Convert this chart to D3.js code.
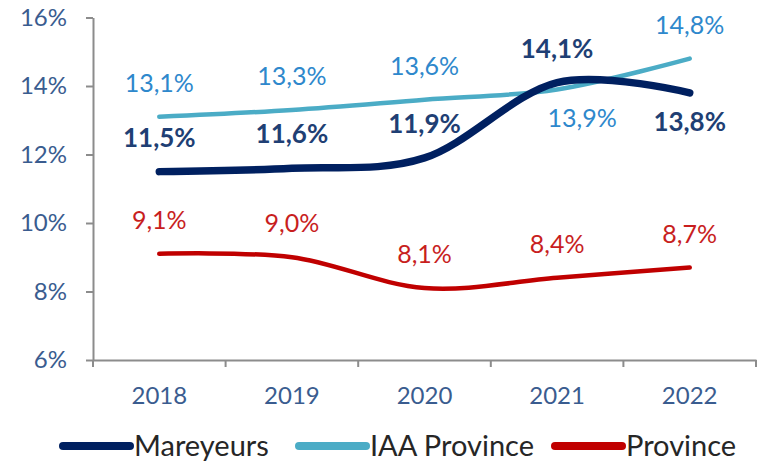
<!DOCTYPE html>
<html>
<head>
<meta charset="utf-8">
<title>Mareyeurs</title>
<script src="https://cdnjs.cloudflare.com/ajax/libs/d3/7.8.5/d3.min.js"></script>
<style>
body{
margin:0;
background:#fff
}
svg{
display:block
}
text{
font-family:Lato, "Open Sans", sans-serif
}
</style>
</head>
<body>
<svg width="765" height="465"></svg>

<script>

// data
var years = ["2018", "2019", "2020", "2021", "2022"]
var mareyeurs = [11.5, 11.6, 11.9, 14.1, 13.8]
var iaaProvince = [13.1, 13.3, 13.6, 13.9, 14.8]
var province = [9.1, 9.0, 8.1, 8.4, 8.7]
var yTicks = [6, 8, 10, 12, 14, 16]
var seriesNames = ["Mareyeurs", "IAA Province", "Province"]
// where each value label sits: t = above, b = below, br = below right
var mareyeursPlace = ["t", "t", "t", "t", "b"]
var iaaPlace = ["t", "t", "t", "br", "t"]
var provincePlace = ["t", "t", "t", "t", "t"]

var series = [
	{name: seriesNames[0], values: mareyeurs, place: mareyeursPlace, color: "#002060", labelColor: "#1F3F74", width: 7.5, bold: true},
	{name: seriesNames[1], values: iaaProvince, place: iaaPlace, color: "#4BACC6", labelColor: "#2E88CC", width: 4.5, bold: false},
	{name: seriesNames[2], values: province, place: provincePlace, color: "#C00000", labelColor: "#C81E1E", width: 4.5, bold: false}
]

const svg = d3.select("svg")

const x = d3.scaleBand().domain(years).range([93, 756])
const y = d3.scaleLinear().domain([6, 16]).range([360, 17.5])
const fmt = v => d3.format(".1f")(v).replace(".", ",") + "%"

// y axis
const yAxis = svg.append("g")
	.attr("transform", "translate(93,0)")
	.call(d3.axisLeft(y).tickValues(yTicks).tickSize(7).tickSizeOuter(0).tickPadding(19).tickFormat(d => d + "%"))
yAxis.selectAll("line").attr("stroke", "#8C8C8C").attr("stroke-width", 2)
yAxis.select(".domain").attr("stroke", "#8C8C8C").attr("stroke-width", 2)
yAxis.selectAll("text")
	.attr("fill", "#3A5C8F")
	.style("font-size", "24px")
	.style("font-family", "Lato")

// x axis
const xAxis = svg.append("g")
	.attr("transform", "translate(0,360)")
	.call(d3.axisBottom(x).tickSize(0).tickSizeOuter(0).tickPadding(27))
xAxis.select(".domain").attr("stroke", "#8C8C8C").attr("stroke-width", 2)
xAxis.selectAll("text")
	.attr("fill", "#3A5C8F")
	.style("font-size", "24px")
	.style("font-family", "Lato")

// tick marks between the categories
var bounds = years.map(d => x(d)).concat([x.range()[1]])
xAxis.selectAll(".bound")
	.data(bounds)
	.join("line")
	.attr("class", "bound")
	.attr("x1", d => d)
	.attr("x2", d => d)
	.attr("y1", 0)
	.attr("y2", 7)
	.attr("stroke", "#8C8C8C")
	.attr("stroke-width", 2)

const line = d3.line()
	.x((d, i) => x(years[i]) + x.bandwidth() / 2)
	.y(d => y(d))
	.curve(d3.curveCardinal.tension(0))

// lines, drawn province first so mareyeurs is on top
svg.append("g")
	.selectAll("path")
	.data(series.slice().reverse())
	.join("path")
	.attr("d", d => line(d.values))
	.attr("fill", "none")
	.attr("stroke", d => d.color)
	.attr("stroke-width", d => d.width)
	.attr("stroke-linecap", "round")

// value labels
series.forEach(s => {
	svg.append("g")
		.selectAll("text")
		.data(s.values)
		.join("text")
		.attr("x", (d, i) => x(years[i]) + x.bandwidth() / 2 + (s.place[i] == "br" ? 25 : 0))
		.attr("y", (d, i) => s.place[i] == "t" ? y(d) - 25 : y(d) + 38)
		.attr("text-anchor", "middle")
		.attr("fill", s.labelColor)
		.style("font-size", s.bold ? "26px" : "25px")
		.style("font-weight", s.bold ? "bold" : "normal")
		.text(d => fmt(d))
})

// legend
var legendX = [63, 299, 555]
const legend = svg.append("g")
	.selectAll("g")
	.data(series)
	.join("g")
	.attr("transform", (d, i) => "translate(" + legendX[i] + ",446)")
legend.append("line")
	.attr("x1", 0)
	.attr("x2", 67)
	.attr("stroke", d => d.color)
	.attr("stroke-width", 8)
	.attr("stroke-linecap", "round")
legend.append("text")
	.attr("x", 71)
	.attr("y", 10)
	.attr("fill", "#262626")
	.style("font-size", "29px")
	.text(d => d.name)

</script>
</body>
</html>
